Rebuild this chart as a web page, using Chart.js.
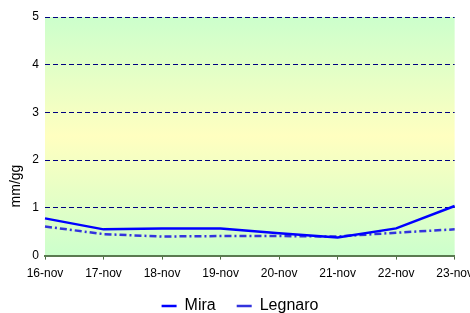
<!DOCTYPE html>
<html>
<head>
<meta charset="utf-8">
<script src="https://cdn.jsdelivr.net/npm/chart.js@4/dist/chart.umd.min.js"></script>
<style>
html,body{margin:0;padding:0;background:#fff;overflow:hidden;}
#wrap{width:470px;height:313px;overflow:hidden;}
</style>
</head>
<body>
<div id="wrap"><canvas id="c" width="480" height="324"></canvas></div>
<script>
const categories = ["16-nov","17-nov","18-nov","19-nov","20-nov","21-nov","22-nov","23-nov"];
const miraValues = [0.78, 0.55, 0.57, 0.57, 0.47, 0.38, 0.57, 1.04];
const legnaroValues = [0.61, 0.45, 0.40, 0.41, 0.41, 0.40, 0.48, 0.55];
const yTickValues = [0, 1, 2, 3, 4, 5];
const yTitle = "mm/gg";

const bgPlugin = {
  id: 'bg',
  beforeDraw(chart) {
    const {ctx, chartArea: a} = chart;
    const g = ctx.createLinearGradient(0, a.top, 0, a.bottom);
    g.addColorStop(0, '#ccffcc');
    g.addColorStop(0.5, '#ffffc0');
    g.addColorStop(1, '#ccffcc');
    ctx.save();
    ctx.fillStyle = g;
    ctx.fillRect(a.left, a.top, a.right - a.left, a.bottom - a.top);
    ctx.restore();
  },
  afterDraw(chart) {
    const {ctx} = chart;
    ctx.save();
    ctx.translate(16, 186);
    ctx.rotate(-Math.PI / 2);
    ctx.font = '14px "Liberation Sans", Arial, sans-serif';
    ctx.fillStyle = '#000';
    ctx.textAlign = 'center';
    ctx.textBaseline = 'middle';
    ctx.fillText(yTitle, 0, 0);
    ctx.restore();
  }
};

new Chart(document.getElementById('c'), {
  type: 'line',
  data: {
    labels: categories,
    datasets: [
      {label: 'Mira', data: miraValues, borderColor: '#0000ff', backgroundColor: '#0000ff',
       borderWidth: 2.5, pointRadius: 0, tension: 0, fill: false},
      {label: 'Legnaro', data: legnaroValues, borderColor: '#3333dd', backgroundColor: '#3333dd',
       borderWidth: 2.5, borderDash: [7, 3, 2, 3], pointRadius: 0, tension: 0, fill: false}
    ]
  },
  options: {
    responsive: false,
    animation: false,
    layout: {padding: {top: 17, left: 0, right: 0, bottom: 0}},
    plugins: {
      legend: {
        position: 'bottom',
        labels: {
          usePointStyle: true, pointStyle: 'line', pointStyleWidth: 15,
          color: '#000', padding: 21,
          font: {family: '"Liberation Sans", Arial, sans-serif', size: 16}
        }
      },
      tooltip: {enabled: false}
    },
    scales: {
      x: {
        type: 'category', offset: false,
        afterFit(scale) { scale.height = scale.height - 11; },
        grid: {display: true, drawOnChartArea: false, drawTicks: true, tickLength: 4, color: '#4a6a40', tickWidth: 1},
        border: {display: true, color: '#5a7a50', width: 2},
        ticks: {color: '#000', padding: 7, maxRotation: 0, autoSkip: false,
                font: {family: '"Liberation Sans", Arial, sans-serif', size: 12}}
      },
      y: {
        min: 0, max: 5,
        afterBuildTicks(scale) { scale.ticks = yTickValues.map(v => ({value: v})); },
        afterFit(scale) { scale.width = 45; },
        grid: {
          drawTicks: false,
          color: (c) => c.tick && c.tick.value === 0 ? 'rgba(0,0,0,0)' : '#000080',
          lineWidth: 1
        },
        border: {display: false, dash: [5, 3]},
        ticks: {color: '#000', padding: 6, font: {family: '"Liberation Sans", Arial, sans-serif', size: 12}}
      }
    }
  },
  plugins: [bgPlugin]
});
</script>
</body>
</html>
